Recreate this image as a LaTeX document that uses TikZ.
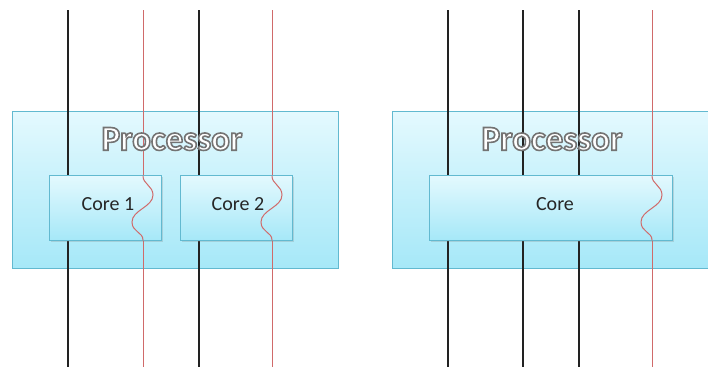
\documentclass[tikz,border=0pt]{standalone}
\usepackage{fontspec}
\setmainfont{Carlito}
\usetikzlibrary{shadows}
\definecolor{boxtop}{HTML}{E4F9FE}
\definecolor{boxbot}{HTML}{A6E8F8}
\definecolor{boxedge}{HTML}{62B9D0}
\definecolor{wirered}{HTML}{D06A6A}
\definecolor{wireblack}{HTML}{222222}
\newcommand{\outlinedtext}[1]{\special{pdf:code q 2 Tr 1.6 w 0.45 0.45 0.45 RG 1 1 1 rg}#1\special{pdf:code Q}}
\begin{document}
\begin{tikzpicture}[x=1pt,y=-1pt,
  procbox/.style={draw=boxedge, line width=0.8pt, top color=boxtop, bottom color=boxbot},
  corebox/.style={draw=boxedge, line width=0.8pt, top color=boxtop, bottom color=boxbot,
     drop shadow={shadow xshift=1.5pt, shadow yshift=-1.5pt, opacity=0.25}},
  blackwire/.style={draw=wireblack, line width=1.1pt},
  redwire/.style={draw=wirered, line width=1pt},
  proclabel/.style={font=\fontsize{35}{40}\selectfont\bfseries},
  corelabel/.style={font=\fontsize{20}{24}\selectfont, text=black!85}]
\useasboundingbox (0,0) rectangle (708,367);
\fill[white] (0,0) rectangle (708,367);
% processors
\node[procbox, minimum width=326pt, minimum height=157pt, inner sep=0pt] (procA) at (175,189.5) {};
\node[procbox, minimum width=316pt, minimum height=157pt, inner sep=0pt] (procB) at (550,189.5) {};
% wire end points
\foreach \n/\x in {a/68,b/143,c/199,d/272,e/448,f/523,g/579,h/652}{
  \coordinate (\n top) at (\x,10);
  \coordinate (\n bot) at (\x,367);
}
\draw[blackwire] (atop) -- (abot);
\draw[blackwire] (ctop) -- (cbot);
\draw[blackwire] (etop) -- (ebot);
\draw[blackwire] (ftop) -- (fbot);
\draw[blackwire] (gtop) -- (gbot);
\foreach \n in {b,d,h}{
  \draw[redwire] (\n top) -- (\n bot);
}
% processor labels
\node[proclabel] (procAlbl) at (172,139) {\outlinedtext{Processor}};
\node[proclabel] (procBlbl) at (552,139) {\outlinedtext{Processor}};
% cores (cover the wires)
\node[corebox, minimum width=112pt, minimum height=65pt, inner sep=0pt] (core1) at (105,207.5) {};
\node[corebox, minimum width=112pt, minimum height=65pt, inner sep=0pt] (core2) at (236,207.5) {};
\node[corebox, minimum width=243pt, minimum height=65pt, inner sep=0pt] (core3) at (550.5,207.5) {};
\node[corelabel] (core1lbl) at (108,204) {Core 1};
\node[corelabel] (core2lbl) at (238,204) {Core 2};
\node[corelabel] (core3lbl) at (555,204) {Core};
% red wave inside each core
\foreach \n in {b,d,h}{
  \draw[redwire] (\n top) ++(0,165.5) -- ++(0,0.5) .. controls +(0,8) and +(0,-9) .. ++(10,19)
     .. controls +(0,12) and +(0,-12) .. ++(-21,27)
     .. controls +(0,10) and +(0,-8) .. ++(11,18) -- ++(0,0.5);
}
\end{tikzpicture}
\end{document}
